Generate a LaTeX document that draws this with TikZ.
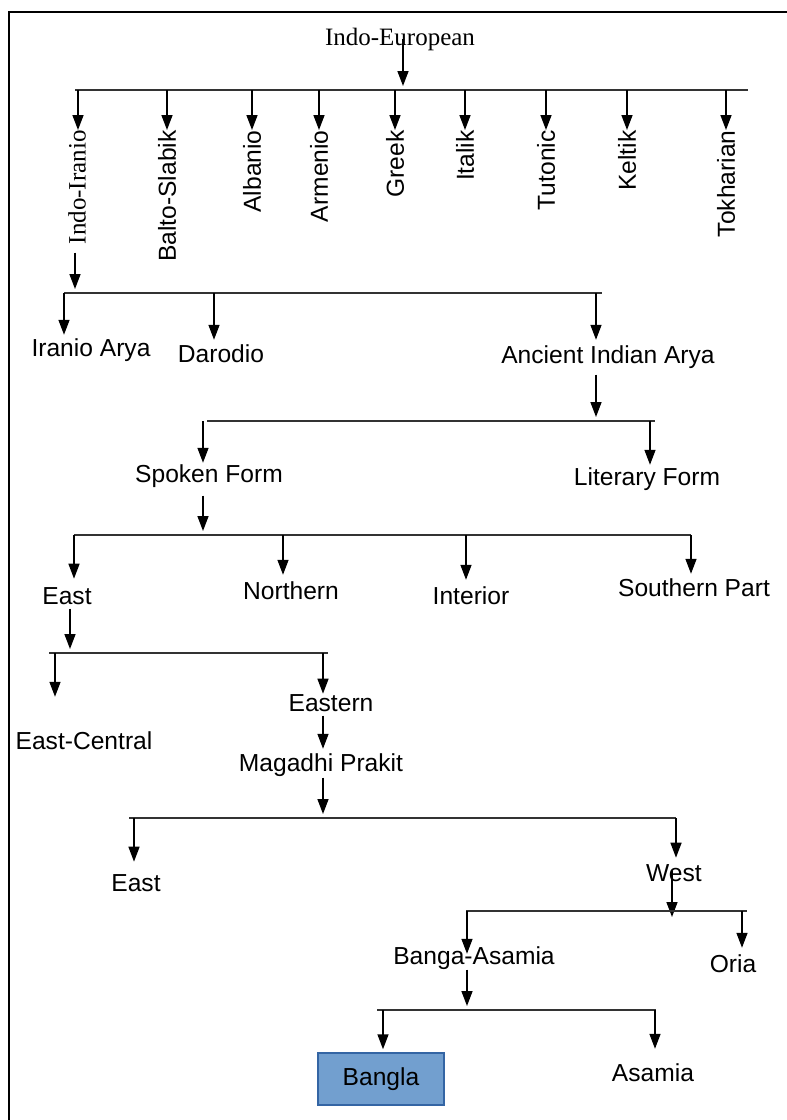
\documentclass[tikz,border=0pt]{standalone}
\usepackage{fontspec}
\setmainfont{Liberation Sans}
\newfontfamily\timesf{Liberation Serif}
\usepackage{tikz}
\usetikzlibrary{arrows.meta,calc,positioning}
\definecolor{hlfill}{HTML}{729FCF}
\definecolor{hlline}{HTML}{3465A4}
\tikzset{
  lbl/.style={inner sep=0pt,anchor=base,font=\fontsize{12.3}{14}\selectfont},
  vlbl/.style={inner sep=0pt,anchor=east,rotate=90,font=\fontsize{12.3}{14}\selectfont},
  serif/.style={font=\timesf\fontsize{12.5}{14}\selectfont},
  arr/.style={line width=0.75pt,-{Triangle[length=7.5pt,width=5.5pt]},shorten >=2pt},
  bar/.style={line width=1pt,black!80},
  hl/.style={draw=hlline,fill=hlfill,line width=0.75pt,minimum width=63pt,minimum height=26pt,inner sep=0pt,font=\fontsize{12.3}{14}\selectfont}
}

\begin{document}
\begin{tikzpicture}[x=0.5pt,y=-0.5pt]
\useasboundingbox (0,0) rectangle (787,1120);
\draw[line width=0.8pt] (9,1120) -- (9,12) -- (787,12);

\node[lbl,serif] (ie) at (400,45) {Indo-European};
\coordinate (J0) at (403,90);
\draw[arr] (J0 |- ie.center) -- (J0);
\draw[bar] (75,90) -- (748,90);
\node[vlbl,serif] (ii) at (77,130) {Indo-Iranio};
\node[vlbl] (bs) at (167,130) {Balto-Slabik};
\node[vlbl] (al) at (252,130) {Albanio};
\node[vlbl] (ar) at (319,130) {Armenio};
\node[vlbl] (gr) at (395,130) {Greek};
\node[vlbl] (it) at (465,130) {Italik};
\node[vlbl] (tu) at (546,130) {Tutonic};
\node[vlbl] (ke) at (627,130) {Keltik};
\node[vlbl] (tk) at (726,130) {Tokharian};
\draw[arr,shorten >=0pt] ([xshift=0.5pt]ii.east |- J0) -- ([xshift=0.5pt]ii.east);
\draw[arr,shorten >=0pt] (bs.east |- J0) -- (bs.east);
\draw[arr,shorten >=0pt] (al.east |- J0) -- (al.east);
\draw[arr,shorten >=0pt] (ar.east |- J0) -- (ar.east);
\draw[arr,shorten >=0pt] (gr.east |- J0) -- (gr.east);
\draw[arr,shorten >=0pt] (it.east |- J0) -- (it.east);
\draw[arr,shorten >=0pt] (tu.east |- J0) -- (tu.east);
\draw[arr,shorten >=0pt] (ke.east |- J0) -- (ke.east);
\draw[arr,shorten >=0pt] (tk.east |- J0) -- (tk.east);

% Indo-Iranio
\coordinate (J1) at (75,293);
\draw[arr,shorten <=4pt] (J1 |- ii.west) -- (J1);
\draw[bar] (64,293) -- (602,293);
\node[lbl] (ia) at (91,356) {Iranio Arya};
\node[lbl] (da) at (221,362) {Darodio};
\node[lbl] (aia) at (608,363) {Ancient Indian Arya};
\coordinate (D21) at (64,293);
\coordinate (D22) at (214,293);
\coordinate (D23) at (596,293);
\draw[arr,shorten >=1.5pt] (D21) -- (D21 |- ia.north);
\draw[arr] (D22) -- (D22 |- da.north);
\draw[arr,shorten >=2.5pt] (D23) -- (D23 |- aia.north);

\coordinate (J2) at (596,421);
\draw[arr,shorten <=3pt] (J2 |- aia.south) -- (J2);
\draw[bar] (207,421) -- (655,421);
\node[lbl] (sf) at (209,482) {Spoken Form};
\node[lbl] (lf) at (647,485) {Literary Form};
\coordinate (D31) at (203,421);
\coordinate (D32) at (650,421);
\draw[arr,shorten >=0.5pt] (D31) -- (D31 |- sf.north);
\draw[arr,shorten >=1pt] (D32) -- (D32 |- lf.north);

% Spoken Form
\coordinate (J3) at (203,535);
\draw[arr,shorten <=4pt] (J3 |- sf.south) -- (J3);
\draw[bar] (74,535) -- (691,535);
\node[lbl] (ea) at (67,604) {East};
\node[lbl] (nt) at (291,599) {Northern};
\node[lbl] (ir) at (471,604) {Interior};
\node[lbl] (sp) at (694,596) {Southern Part};
\coordinate (D41) at (74,535);
\coordinate (D42) at (283,535);
\coordinate (D43) at (466,535);
\coordinate (D44) at (691,535);
\draw[arr,shorten >=4pt] (D41) -- (D41 |- ea.north);
\draw[arr,shorten >=3pt] (D42) -- (D42 |- nt.north);
\draw[arr,shorten >=3pt] (D43) -- (D43 |- ir.north);
\draw[arr] (D44) -- (D44 |- sp.north);

% East
\coordinate (J4) at (70,653);
\draw[arr,shorten <=2pt] (J4 |- ea.south) -- (J4);
\draw[bar] (49,653) -- (328,653);
\node[lbl] (ec) at (84,749) {East-Central};
\node[lbl] (et) at (331,711) {Eastern};
\node[lbl] (mp) at (321,771) {Magadhi Prakit};
\coordinate (D51) at (55,653);
\coordinate (D52) at (323,653);
\draw[arr,shorten >=17pt] (D51) -- (D51 |- ec.north);
\draw[arr,shorten >=0pt] (D52) -- (D52 |- et.north);
\draw[arr,shorten <=2pt] (D52 |- et.south) -- (D52 |- mp.north);

% Magadhi Prakit
\coordinate (J5) at (323,818);
\draw[arr,shorten <=0.5pt] (J5 |- mp.south) -- (J5);
\draw[bar] (129,818) -- (676,818);
\node[lbl] (eb) at (136,891) {East};
\node[lbl] (we) at (674,881) {West};
\coordinate (D61) at (134,818);
\coordinate (D62) at (676,818);
\draw[arr,shorten >=6pt] (D61) -- (D61 |- eb.north);
\draw[arr,shorten >=3pt] (D62) -- (D62 |- we.north);

% West
\coordinate (J6) at (672,911);
\draw[arr,shorten <=3.5pt,shorten >=-3pt] (J6 |- we.north) -- (J6);
\draw[bar] (466,911) -- (747,911);
\node[lbl] (ba) at (474,964) {Banga-Asamia};
\node[lbl] (oa) at (733,972) {Oria};
\coordinate (D71) at (467,911);
\coordinate (D72) at (742,911);
\draw[arr,shorten >=-4pt] (D71) -- (D71 |- ba.north);
\draw[arr,shorten >=3pt] (D72) -- (D72 |- oa.north);

% Banga-Asamia
\coordinate (J7) at (467,1010);
\draw[arr,shorten <=0pt] (J7 |- ba.south) -- (J7);
\draw[bar] (377,1010) -- (656,1010);
\node[hl] (bg) at (381,1079) {Bangla};
\node[lbl] (as) at (653,1081) {Asamia};
\coordinate (D81) at (383,1010);
\coordinate (D82) at (655,1010);
\draw[arr,shorten >=1.5pt] (D81) -- (D81 |- bg.north);
\draw[arr,shorten >=7pt] (D82) -- (D82 |- as.north);
\end{tikzpicture}
\end{document}
